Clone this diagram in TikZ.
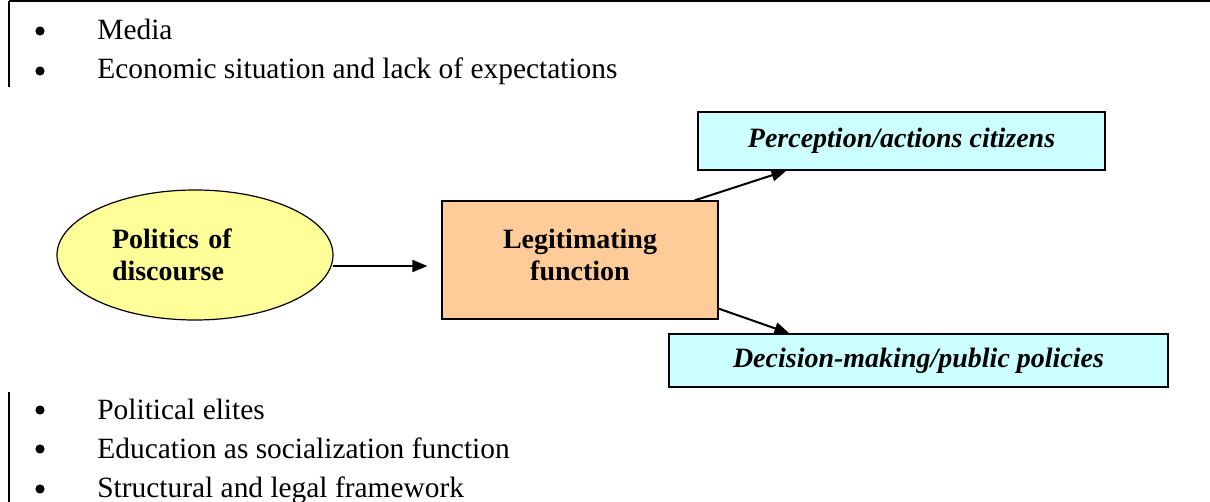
\documentclass[tikz,border=0pt]{standalone}
\usepackage{fontspec}
\setmainfont{Liberation Serif}
\usepackage{tikz}
\usetikzlibrary{arrows.meta, shapes.geometric, calc}
\definecolor{DiscYellow}{HTML}{FFFF99}
\definecolor{LegitOrange}{HTML}{FFCC99}
\definecolor{OutCyan}{HTML}{CCFFFF}

\begin{document}
\begin{tikzpicture}[x=0.5pt, y=-0.5pt,
        every node/.style={font=\fontsize{14}{16}\selectfont},
        item/.style={anchor=base west, inner sep=0pt, font=\fontsize{14.7}{16}\selectfont},
        bulletdot/.style={circle, fill, inner sep=0pt, minimum size=4.6pt},
        outbox/.style={draw, fill=OutCyan, line width=0.6pt, font=\fontsize{14}{16}\selectfont\bfseries\itshape},
        flow/.style={line width=1pt, -{Triangle[length=7.5pt, width=6pt]}}]
                \useasboundingbox (0,0) rectangle (1210,502);
                % side rules of the page frame
                \draw[line width=1pt] (9,1) -- (1210,1);
                \draw[line width=1pt] (9,1) -- (9,87);
                \draw[line width=1pt] (9,392) -- (9,502);
                % bullet lists
                \node[bulletdot] (b1) at (40,31) {};
                \node[item] (media) at (97,40) {Media};
                \node[bulletdot] (b2) at (40,71) {};
                \node[item] (econ) at (97,79) {Economic situation and lack of expectations};
                \node[bulletdot] (b3) at (40,410) {};
                \node[item] (elites) at (97,419) {Political elites};
                \node[bulletdot] (b4) at (40,449) {};
                \node[item] (educ) at (97,458) {Education as socialization function};
                \node[bulletdot] (b5) at (40,489) {};
                \node[item] (frame) at (97,497) {Structural and legal framework};
                % diagram
                \node[ellipse, draw, fill=DiscYellow, line width=0.6pt, minimum width=138pt, minimum height=65pt,
                    text width=83pt, align=left, font=\fontsize{14}{16}\selectfont\bfseries] (politics) at (195,255)
                    {Politics of\\discourse};
                \node[draw, fill=LegitOrange, line width=0.6pt, minimum width=138pt, minimum height=59pt] (legit) at (580,260) {};
                \node[align=center, font=\fontsize{14}{16}\selectfont\bfseries] (legittext) at (580,255) {Legitimating\\function};
                \node[outbox, minimum width=203.5pt, minimum height=29pt] (percep) at (901.5,141) {Perception/actions citizens};
                \node[outbox, minimum width=249.5pt, minimum height=26.5pt] (decis) at (918.5,360.5) {Decision-making/public policies};
                \draw[flow] ($(politics.east)+(-1,11)$) -- ($(legit.west)+(-14,6)$);
                \draw[flow] ($(legit.north east)+(-24,0)$) -- ($(percep.south west)+(89,0)$);
                \draw[flow] ($(legit.south east)+(0,-11)$) -- ($(decis.north west)+(121,0)$);
            \end{tikzpicture}
\end{document}
